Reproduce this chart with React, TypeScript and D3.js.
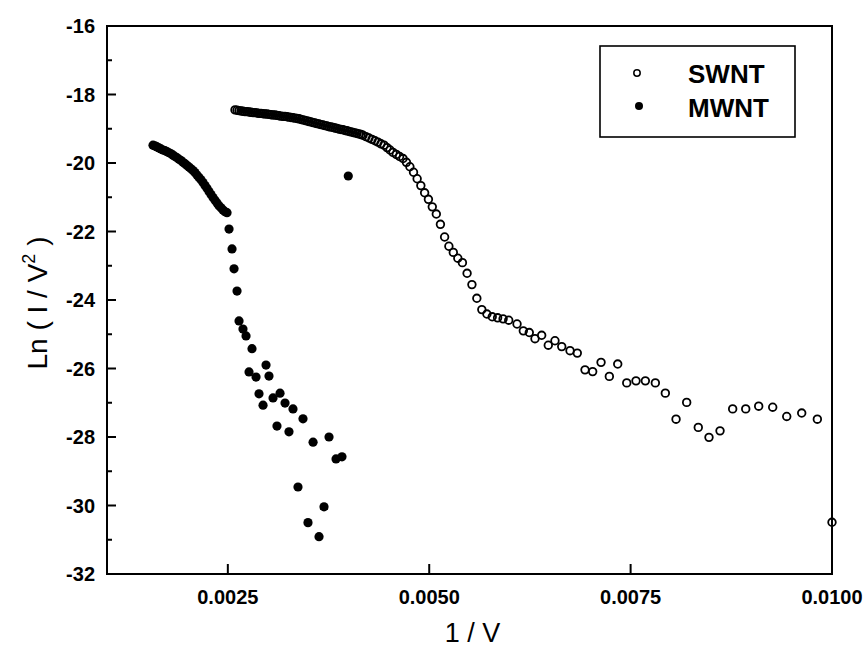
import React from 'react';
import * as d3 from 'd3';

// ---- data ----
const swntX = [
  0.002589, 0.002614, 0.002639, 0.002664, 0.002688, 0.002713, 0.002738, 0.002763, 0.002788, 0.002813,
  0.002837, 0.002862, 0.002887, 0.002912, 0.002937, 0.002962, 0.002986, 0.003011, 0.003036, 0.003061,
  0.003086, 0.003111, 0.003135, 0.00316, 0.003185, 0.00321, 0.003235, 0.00326, 0.003284, 0.003309,
  0.003334, 0.003359, 0.003384, 0.003409, 0.003433, 0.003458, 0.003483, 0.003508, 0.003533, 0.003558,
  0.003582, 0.003607, 0.003632, 0.003657, 0.003682, 0.003707, 0.003731, 0.003756, 0.003781, 0.003806,
  0.003831, 0.003856, 0.00388, 0.003905, 0.00393, 0.003955, 0.00398, 0.004005, 0.004029, 0.004054,
  0.004079, 0.004104, 0.004129, 0.004154, 0.004178,
  0.004215, 0.004252, 0.00429, 0.004327, 0.004364, 0.004401, 0.004439, 0.004476, 0.004513, 0.00455,
  0.004591, 0.004632, 0.004675, 0.004717, 0.00476, 0.004805, 0.00485, 0.004896, 0.004943, 0.00499,
  0.005038, 0.005088, 0.005139, 0.005191, 0.005244, 0.005299, 0.005355, 0.005412, 0.00547, 0.00553,
  0.005591, 0.005653, 0.005716, 0.005782, 0.005849, 0.005917, 0.005987, 0.00609,
  0.006168, 0.006242, 0.006313, 0.006396, 0.006478, 0.006561, 0.006645, 0.006748, 0.006838, 0.006934,
  0.007029, 0.007133, 0.007236, 0.00734, 0.007452, 0.007567, 0.007683, 0.007807, 0.007931, 0.008064,
  0.008196, 0.00834, 0.008473, 0.00861, 0.008767, 0.008929, 0.00909, 0.009264, 0.009438, 0.009624,
  0.009818, 0.0100,
];
const swntY = [
  -18.45, -18.46, -18.47, -18.48, -18.49, -18.5, -18.5, -18.51, -18.52, -18.53,
  -18.53, -18.54, -18.55, -18.55, -18.56, -18.57, -18.57, -18.58, -18.59, -18.6,
  -18.6, -18.61, -18.62, -18.63, -18.64, -18.64, -18.65, -18.66, -18.67, -18.68,
  -18.69, -18.7, -18.71, -18.73, -18.74, -18.76, -18.77, -18.79, -18.8, -18.82,
  -18.83, -18.85, -18.86, -18.88, -18.89, -18.91, -18.92, -18.94, -18.95, -18.96,
  -18.98, -18.99, -19.01, -19.02, -19.03, -19.05, -19.06, -19.08, -19.09, -19.11,
  -19.12, -19.14, -19.15, -19.17, -19.19,
  -19.23, -19.27, -19.31, -19.35, -19.39, -19.44, -19.48, -19.55, -19.62, -19.69,
  -19.75, -19.81, -19.87, -19.98, -20.11, -20.27, -20.46, -20.66, -20.87, -21.06,
  -21.28, -21.49, -21.79, -22.16, -22.43, -22.61, -22.78, -22.91, -23.22, -23.55,
  -23.95, -24.28, -24.41, -24.49, -24.52, -24.55, -24.59, -24.7,
  -24.9, -24.95, -25.13, -25.03, -25.32, -25.19, -25.36, -25.48, -25.55, -26.04,
  -26.09, -25.82, -26.23, -25.87, -26.42, -26.36, -26.36, -26.42, -26.72, -27.48,
  -26.99, -27.72, -28.01, -27.82, -27.18, -27.18, -27.1, -27.13, -27.4, -27.3,
  -27.48, -30.49,
];

const mwntX = [
  0.001571, 0.001596, 0.001621, 0.001646, 0.00167, 0.001695, 0.00172, 0.001745, 0.00177, 0.001795,
  0.001819, 0.001844, 0.001869, 0.001894, 0.001919, 0.001943, 0.001968, 0.001993, 0.002018, 0.002043,
  0.002068, 0.002092, 0.002117, 0.002142, 0.002167, 0.002192, 0.002217, 0.002241, 0.002266, 0.002291,
  0.002316, 0.002341, 0.002366, 0.00239, 0.002415, 0.00244, 0.002465, 0.00249,
  0.002515, 0.002552, 0.002577, 0.002614, 0.002639, 0.002688, 0.002726, 0.0028, 0.002974, 0.002763,
  0.00285, 0.003011, 0.002887, 0.002937, 0.003061, 0.003148, 0.00321, 0.003309, 0.003433, 0.00311,
  0.003259, 0.003558, 0.003756, 0.003843, 0.003917, 0.003371, 0.003694, 0.003495, 0.003632, 0.003995,
];
const mwntY = [
  -19.48, -19.5, -19.53, -19.56, -19.59, -19.62, -19.64, -19.67, -19.7, -19.73,
  -19.77, -19.81, -19.85, -19.89, -19.93, -19.98, -20.02, -20.07, -20.12, -20.17,
  -20.22, -20.28, -20.35, -20.42, -20.49, -20.57, -20.66, -20.74, -20.83, -20.92,
  -21.01, -21.09, -21.17, -21.25, -21.31, -21.37, -21.42, -21.45,
  -21.93, -22.51, -23.09, -23.74, -24.61, -24.85, -25.05, -25.42, -25.9, -26.1,
  -26.25, -26.22, -26.74, -27.07, -26.86, -26.72, -27.01, -27.18, -27.47, -27.68,
  -27.85, -28.15, -28.0, -28.64, -28.58, -29.46, -30.04, -30.5, -30.91, -20.38,
];

const xTicks = [0.0025, 0.005, 0.0075, 0.01];
const xTickLabels = ['0.0025', '0.0050', '0.0075', '0.0100'];
const yTicks = [-32, -30, -28, -26, -24, -22, -20, -18, -16];
const yTickLabels = ['-32', '-30', '-28', '-26', '-24', '-22', '-20', '-18', '-16'];
const yMinorTicks = [-31, -29, -27, -25, -23, -21, -19, -17];
const seriesNames = ['SWNT', 'MWNT'];

const W = 864;
const H = 649;
const M = { left: 107, right: 32, top: 26, bottom: 75 };
const FONT = "'Liberation Sans', Arial, sans-serif";

export default function App() {
  const x = d3.scaleLinear().domain([0.001, 0.01]).range([M.left, W - M.right]);
  const y = d3.scaleLinear().domain([-32, -16]).range([H - M.bottom, M.top]);
  const swnt = swntX.map((v, i) => [v, swntY[i]]);
  const mwnt = mwntX.map((v, i) => [v, mwntY[i]]);
  const x0 = x.range()[0];
  const x1 = x.range()[1];
  const y0 = y.range()[0];
  const y1 = y.range()[1];

  return (
    <svg width={W} height={H} style={{ position: 'absolute', left: 0, top: 0, background: '#fff' }}>
      <rect x={0} y={0} width={W} height={H} fill="#fff" />
      {/* frame */}
      <rect x={x0} y={y1} width={x1 - x0} height={y0 - y1} fill="none" stroke="#000" strokeWidth={2} />
      {/* y ticks */}
      {yTicks.map((t, i) => (
        <g key={'yt' + t}>
          <line x1={x0} x2={x0 + 9} y1={y(t)} y2={y(t)} stroke="#000" strokeWidth={2} />
          <text x={x0 - 12} y={y(t)} dy="0.36em" textAnchor="end" fontFamily={FONT} fontWeight="bold" fontSize={20}>
            {yTickLabels[i]}
          </text>
        </g>
      ))}
      {yMinorTicks.map((t) => (
        <line key={'ym' + t} x1={x0} x2={x0 + 5} y1={y(t)} y2={y(t)} stroke="#000" strokeWidth={2} />
      ))}
      {/* x ticks */}
      {xTicks.map((t, i) => (
        <g key={'xt' + t}>
          <line x1={x(t)} x2={x(t)} y1={y0} y2={y0 - 10} stroke="#000" strokeWidth={2} />
          <text x={x(t)} y={y0 + 30} textAnchor="middle" fontFamily={FONT} fontWeight="bold" fontSize={20}>
            {xTickLabels[i]}
          </text>
        </g>
      ))}
      {/* axis titles */}
      <text x={(x0 + x1) / 2 + 3} y={642} textAnchor="middle" fontFamily={FONT} fontSize={27}>
        1 / V
      </text>
      <text
        transform={`translate(47, ${(y0 + y1) / 2 + 3}) rotate(-90)`}
        textAnchor="middle"
        fontFamily={FONT}
        fontSize={28}
      >
        Ln ( I / V<tspan fontSize={18} dy={-12}>2</tspan><tspan dy={12}> )</tspan>
      </text>
      {/* data */}
      {mwnt.map((d, i) => (
        <circle key={'m' + i} cx={x(d[0])} cy={y(d[1])} r={4.6} fill="#000" />
      ))}
      {swnt.map((d, i) => (
        <circle key={'s' + i} cx={x(d[0])} cy={y(d[1])} r={3.8} fill="none" stroke="#000" strokeWidth={1.8} />
      ))}
      {/* legend */}
      <rect x={600} y={46} width={195} height={91} fill="#fff" stroke="#000" strokeWidth={1.6} />
      <circle cx={637} cy={73} r={3.2} fill="#fff" stroke="#000" strokeWidth={1.5} />
      <circle cx={639} cy={106} r={4} fill="#000" />
      <text x={688} y={83} fontFamily={FONT} fontWeight="bold" fontSize={26}>{seriesNames[0]}</text>
      <text x={688} y={117} fontFamily={FONT} fontWeight="bold" fontSize={26}>{seriesNames[1]}</text>
    </svg>
  );
}
